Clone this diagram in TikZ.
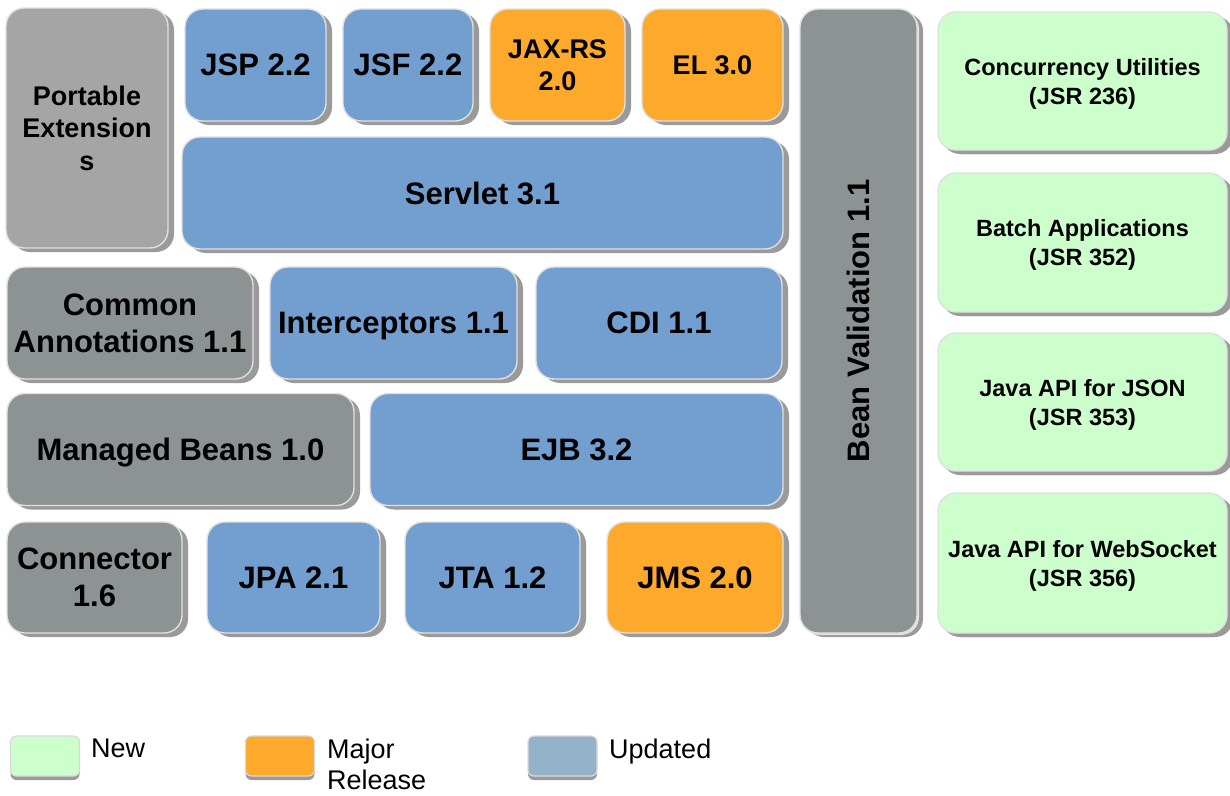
\documentclass[tikz,border=0pt]{standalone}
\usepackage{fontspec}
\setmainfont{Liberation Sans}
\usetikzlibrary{shadows}
\definecolor{sky}{HTML}{729FCF}
\definecolor{orng}{HTML}{FDA92B}
\definecolor{lgray}{HTML}{A5A5A5}
\definecolor{dgray}{HTML}{8D9292}
\definecolor{mint}{HTML}{CCFFCC}
\definecolor{upd}{HTML}{95B3C8}
\definecolor{shd}{HTML}{9A9A9A}
\newcommand{\twoline}[2]{\raisebox{-3pt}[\height][\depth]{\begin{tabular}{@{}c@{}}#1\\#2\end{tabular}}}
\begin{document}
\begin{tikzpicture}[x=1pt,y=-1pt,
  blk/.style 2 args={rounded corners=18pt, draw=white!88!black, line width=1.4pt,
    inner sep=0pt, align=center, minimum width=#1pt, minimum height=#2pt,
    font=\bfseries\fontsize{31}{37}\selectfont,
    drop shadow={shadow xshift=6pt, shadow yshift=-4pt, fill=shd, opacity=1}},
  small/.style={font=\bfseries\fontsize{27}{32.5}\selectfont},
  newbox/.style={fill=mint, font=\bfseries\fontsize{23.5}{29}\selectfont,
    drop shadow={shadow xshift=4pt, shadow yshift=-4pt, fill=shd, opacity=1}},
  leg/.style={rounded corners=6pt, draw=white!85!black, line width=1.2pt,
    minimum width=69pt, minimum height=40pt, inner sep=0pt,
    drop shadow={shadow xshift=0pt, shadow yshift=-4pt, fill=shd, opacity=1}},
  lab/.style={font=\fontsize{27}{31}\selectfont, inner sep=0pt, align=left, anchor=north west}
]
\fill[white] (0,0) rectangle (1230,795);
\useasboundingbox (0,0) rectangle (1230,795);

% left block
\node[blk={162}{240}, fill=lgray, small] (port) at (87,128) {Portable\\Extension\\s};
\node[blk={141}{112}, fill=sky] (jsp) at (255.5,65) {JSP 2.2};
\node[blk={130}{112}, fill=sky] (jsf) at (408,65) {JSF 2.2};
\node[blk={135}{112}, fill=orng, small] (jaxrs) at (557.5,65) {JAX-RS\\2.0};
\node[blk={141}{112}, fill=orng, small] (el) at (712.5,65) {EL 3.0};
\node[blk={601}{112}, fill=sky] (servlet) at (482.5,193) {Servlet 3.1};

\node[blk={246}{112}, fill=dgray] (common) at (130,323) {Common\\Annotations 1.1};
\node[blk={247}{112}, fill=sky, text depth=0pt] (inter) at (393.5,323) {Interceptors 1.1};
\node[blk={246}{112}, fill=sky] (cdi) at (659,323) {CDI 1.1};

\node[blk={347}{112}, fill=dgray, text depth=0pt] (managed) at (180.5,449.5) {Managed Beans 1.0};
\node[blk={413}{112}, fill=sky] (ejb) at (576.5,449.5) {EJB 3.2};

\node[blk={175}{111}, fill=dgray] (conn) at (94.5,577.5) {Connector\\1.6};
\node[blk={173}{111}, fill=sky] (jpa) at (293.5,577.5) {JPA 2.1};
\node[blk={175}{111}, fill=sky] (jta) at (492.5,577.5) {JTA 1.2};
\node[blk={176}{111}, fill=orng] (jms) at (695,577.5) {JMS 2.0};

\node[blk={117}{624}, fill=dgray,
  drop shadow={shadow xshift=2pt, shadow yshift=-2pt, fill=black!12, opacity=1}]
  (bean) at (858.5,321) {\rotatebox{90}{Bean Validation 1.1}};

% new APIs
\node[blk={289}{138}, newbox] (conc) at (1082.5,81) {\twoline{Concurrency Utilities}{(JSR 236)}};
\node[blk={289}{139}, newbox] (batch) at (1082.5,242.5) {\twoline{Batch Applications}{(JSR 352)}};
\node[blk={289}{138}, newbox] (json) at (1082.5,402) {\twoline{Java API for JSON}{(JSR 353)}};
\node[blk={289}{140}, newbox] (ws) at (1082.5,563) {\twoline{Java API for WebSocket}{(JSR 356)}};

% legend
\node[leg, fill=mint] (lnew) at (45,756) {};
\node[leg, fill=orng] (lmaj) at (280,756) {};
\node[leg, fill=upd] (lupd) at (562.5,756) {};
\node[lab] (tnew) at (91,739) {New};
\node[lab] (tmaj) at (327,739) {Major\\Release};
\node[lab] (tupd) at (609,739) {Updated};
\end{tikzpicture}
\end{document}
